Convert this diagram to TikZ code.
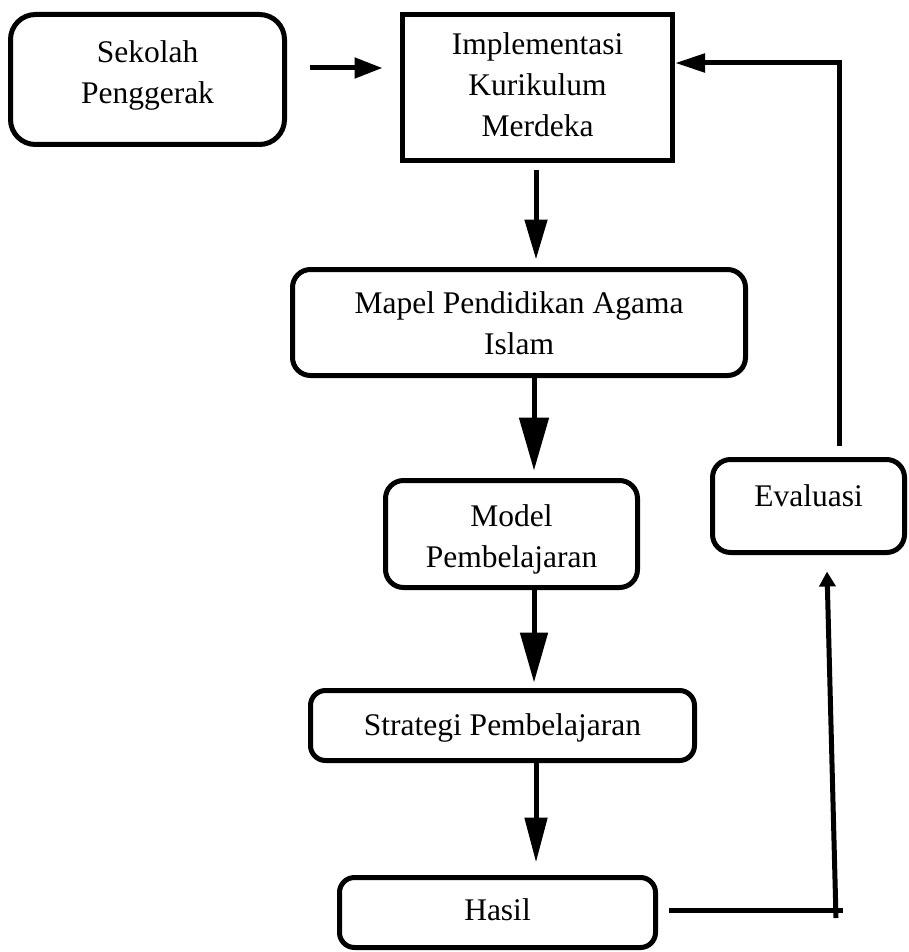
\documentclass[tikz,border=0pt]{standalone}
\usepackage{fontspec}
\setmainfont{Liberation Serif}
\usetikzlibrary{arrows.meta}
\tikzset{
  box/.style={draw, line width=5pt, rounded corners=18pt, inner sep=0pt,
    font=\fontsize{31.5}{41}\selectfont, anchor=center},
  conn/.style={line width=5pt},
}
\newcommand{\lbl}[1]{\begin{tabular}[t]{@{}c@{}}#1\end{tabular}}
\begin{document}
\begin{tikzpicture}[x=1pt,y=-1pt]
\useasboundingbox (0,0) rectangle (908,952);
\fill[white] (0,0) rectangle (908,952);

\node[box, rounded corners=25pt, minimum width=274pt, minimum height=130pt,
  text height=0pt, text depth=33pt] (sek) at (147.5,79.5) {\lbl{Sekolah\\Penggerak}};
\node[box, sharp corners, minimum width=270pt, minimum height=146pt,
  text height=0pt, text depth=65pt] (impl) at (537.5,87.5) {\lbl{Implementasi\\Kurikulum\\Merdeka}};
\node[box, minimum width=453pt, minimum height=106pt,
  text height=0pt, text depth=19pt] (mapel) at (519,322.5) {\lbl{Mapel Pendidikan Agama\\Islam}};
\node[box, minimum width=252pt, minimum height=107pt,
  text height=0pt, text depth=16pt] (model) at (511.5,534) {\lbl{Model\\Pembelajaran}};
\node[box, rounded corners=15pt, minimum width=384pt, minimum height=70pt,
  text height=19pt, text depth=0pt] (strat) at (502.5,725.5) {\lbl{Strategi Pembelajaran}};
\node[box, rounded corners=15pt, minimum width=316pt, minimum height=70pt,
  text height=15pt, text depth=0pt] (hasil) at (497.5,912.5) {\lbl{Hasil}};
\node[box, minimum width=192pt, minimum height=93pt,
  text height=0pt, text depth=0pt] (eval) at (808.5,506) {\lbl{Evaluasi}};

% Sekolah -> Implementasi
\draw[conn, -{Triangle[length=28pt,width=20pt]}, shorten <=22.5pt, shorten >=17.5pt]
  ([yshift=11.5pt]sek.east) -- ([yshift=19.5pt]impl.west);
% Implementasi -> Mapel
\draw[conn, -{Triangle[length=40pt,width=22pt]}, shorten <=7.5pt, shorten >=7.5pt]
  ([xshift=-1.5pt]impl.south) -- ([xshift=-1.5pt]impl.south |- mapel.north);
% Mapel -> Model
\draw[conn, -{Triangle[length=53pt,width=29pt]}, shorten >=7.5pt]
  ([xshift=22.5pt]model.north |- mapel.south) -- ([xshift=22.5pt]model.north);
% Model -> Strategi
\draw[conn, -{Triangle[length=50pt,width=27pt]}, shorten >=5.5pt]
  ([xshift=22.5pt]model.south) -- ([xshift=22.5pt]model.south |- strat.north);
% Strategi -> Hasil
\draw[conn, -{Triangle[length=45pt,width=22pt]}, shorten >=12.5pt]
  ([xshift=33.5pt]strat.south) -- ([xshift=33.5pt]strat.south |- hasil.north);
% Hasil -> Evaluasi
\coordinate (hb) at (836,918);
\draw[conn] ([xshift=10.5pt,yshift=2.5pt]hasil.east) -- ++(174,0);
\draw[conn, -{Triangle[length=15pt,width=16pt]}]
  (hb) -- ([xshift=18.5pt,yshift=-16.5pt]eval.south);
% Evaluasi -> Implementasi
\draw[conn, miter limit=10, -{Triangle[length=30pt,width=18pt]}]
  ([xshift=30.5pt,yshift=11.5pt]eval.north) |- ([yshift=24.5pt]impl.east);
\end{tikzpicture}
\end{document}
